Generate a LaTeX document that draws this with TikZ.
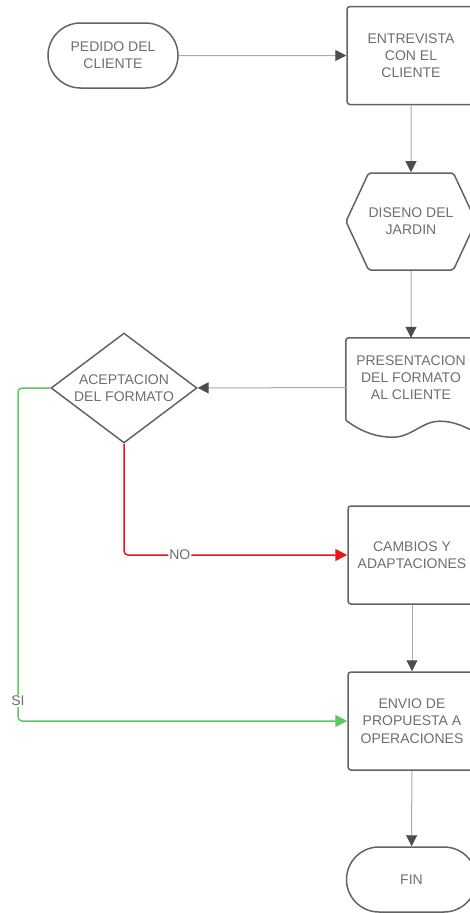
\documentclass[tikz,border=0pt]{standalone}
\usepackage{fontspec}
\setmainfont{Liberation Sans}
\usepackage{xcolor}
\definecolor{linegray}{HTML}{AAAAAA}
\definecolor{boxgray}{HTML}{636363}
\definecolor{tipgray}{HTML}{4D4D4D}
\definecolor{textgray}{HTML}{6E6E6E}
\definecolor{nored}{HTML}{E6161B}
\definecolor{sigreen}{HTML}{5CC860}
\usetikzlibrary{positioning,arrows.meta,shapes.geometric,shapes.misc,shapes.symbols,calc}

\begin{document}
\begin{tikzpicture}[x=1pt,y=-1pt,
      txt/.style={text=textgray, align=center, font=\fontsize{14}{17.3}\selectfont, inner sep=0pt},
      base/.style={txt, draw=boxgray, line width=1.5pt},
      term/.style={base, rounded rectangle, minimum width=130pt, minimum height=65pt},
      proc/.style={base, rectangle, rounded corners=3pt, minimum width=128pt, minimum height=98pt},
      hexa/.style={base, signal, signal to=east and west, signal pointer angle=130,
                   rounded corners=2pt, minimum width=127pt, minimum height=97pt},
      docu/.style={minimum width=130pt, minimum height=99pt, inner sep=0pt},
      dec/.style={base, diamond, aspect=1.33, minimum width=146pt, minimum height=110pt},
      arr/.style={-{Triangle[length=11pt,width=11pt,color=tipgray]}, linegray, line width=1pt},
      noarr/.style={-{Triangle[length=12pt,width=12pt]}, nored, line width=1.5pt, rounded corners=4pt},
      siarr/.style={-{Triangle[length=12pt,width=12pt]}, sigreen, line width=1.5pt, rounded corners=4pt},
      tag/.style={txt, fill=white, inner sep=1pt}]
    \useasboundingbox (0,0) rectangle (469,913);
    \node[term] (pedido) at (113,55.5)  {PEDIDO DEL\\CLIENTE};
    \node[proc] (entre)  at (411,55.5)  {ENTREVISTA\\CON EL\\CLIENTE};
    \node[hexa] (diseno) at (411,221.5) {DISENO DEL\\JARDIN};
    \node[docu] (pres)   at (411,387.5) {};
    \node[txt]  (prestxt) at (411,377.5) {PRESENTACION\\DEL FORMATO\\AL CLIENTE};
    \node[dec]  (acep)   at (124,388)   {ACEPTACION\\DEL FORMATO};
    \node[proc] (camb)   at (412,555)   {CAMBIOS Y\\ADAPTACIONES};
    \node[proc] (envio)  at (412,721)   {ENVIO DE\\PROPUESTA A\\OPERACIONES};
    \node[term] (fin)    at (411.5,879.5) {FIN};
    % document outline
    \draw[boxgray, line width=1.5pt, rounded corners=3pt]
      ($(pres.south west)+(0,-17)$) -- (pres.north west) -- (pres.north east)
      -- ($(pres.south east)+(0,-5)$);
    \draw[boxgray, line width=1.5pt]
      ($(pres.south west)+(0,-17)$) .. controls ($(pres.south west)+(16,-5)$) and ($(pres.south west)+(31,0)$)
      .. ($(pres.south west)+(47,0)$) .. controls ($(pres.south west)+(66,0)$) and ($(pres.south west)+(76,-16)$)
      .. ($(pres.south west)+(94,-16)$) .. controls ($(pres.south west)+(109,-16)$) and ($(pres.south west)+(119,-10)$)
      .. ($(pres.south east)+(0,-5)$);
    \coordinate (siturn) at (18,388);
    \draw[arr] (pedido) -- (entre);
    \draw[arr] (entre) -- (diseno);
    \draw[arr] (diseno) -- (pres);
    \draw[arr] (pres) -- (acep);
    \draw[noarr] (acep.south) |- node[tag, pos=0.625] {NO} (camb.west);
    \draw[siarr] (acep.west) -- (siturn) |- node[tag, pos=0.47] {SI} (envio.west);
    \draw[arr] (camb) -- (envio);
    \draw[arr] (envio) -- (fin);
  \end{tikzpicture}
\end{document}
